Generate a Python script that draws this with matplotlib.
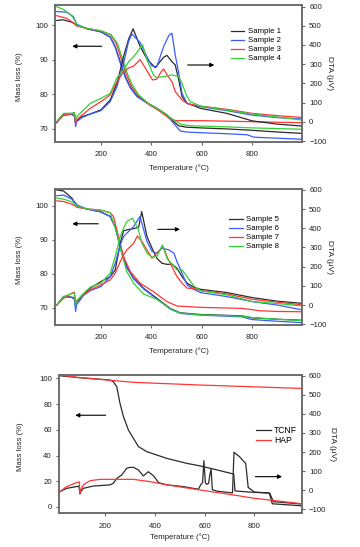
import matplotlib
matplotlib.use('Agg')
import matplotlib.pyplot as plt

plt.rcParams['font.family'] = ['Liberation Sans', 'DejaVu Sans']
FS = 5.6

# ---------------- data: panel 1 (mass loss) ----------------
t1_m1 = [25, 50, 85, 100, 105, 145, 200, 237, 257, 277, 297, 317, 343, 383, 422, 462, 489, 509, 540, 595, 700, 800, 900, 998]
m1_s1 = [101.4, 101.6, 100.9, 100.3, 100.0, 99.0, 98.1, 96.6, 93.8, 89.4, 85.1, 82.0, 79.5, 77.5, 75.9, 74.0, 72.0, 70.8, 70.4, 70.2, 69.9, 69.5, 69.0, 68.6]
t1_m2 = [25, 65, 91, 100, 105, 145, 200, 237, 257, 277, 297, 317, 343, 383, 422, 462, 489, 515, 540, 595, 700, 780, 807, 900, 998]
m1_s2 = [104.0, 103.8, 102.5, 101.0, 100.3, 99.0, 98.1, 96.6, 93.6, 89.0, 84.8, 81.8, 79.3, 77.4, 75.8, 73.8, 71.5, 69.3, 69.0, 68.8, 68.5, 68.2, 67.5, 67.2, 66.9]
t1_m3 = [25, 65, 95, 103, 145, 200, 240, 262, 282, 302, 322, 350, 390, 430, 462, 480, 500, 600, 800, 998]
m1_s3 = [102.8, 102.0, 100.5, 99.8, 99.1, 98.4, 97.2, 94.5, 90.0, 85.5, 82.2, 79.5, 77.0, 75.2, 73.5, 72.6, 72.3, 72.3, 72.0, 71.7]
t1_m4 = [25, 52, 85, 100, 105, 145, 200, 240, 265, 285, 305, 325, 350, 390, 430, 470, 500, 520, 560, 700, 800, 998]
m1_s4 = [105.4, 104.6, 102.7, 101.0, 100.0, 99.1, 98.4, 97.3, 94.8, 90.5, 86.0, 82.6, 79.8, 77.2, 75.5, 73.5, 72.0, 71.2, 70.8, 70.5, 70.2, 69.8]

# ---------------- data: panel 1 (DTA) ----------------
t1_d1 = [25, 40, 52, 70, 85, 95, 100, 103, 125, 158, 200, 237, 264, 290, 310, 328, 356, 383, 416, 449, 462, 482, 495, 509, 522, 542, 555, 595, 700, 800, 900, 998]
d1_s1 = [-5, 25, 35, 38, 38, 30, -8, 5, 27, 41, 62, 114, 200, 339, 430, 484, 392, 326, 282, 336, 346, 313, 296, 218, 131, 96, 91, 70, 44, 5, -12, -22]
t1_d2 = [25, 52, 85, 95, 100, 103, 125, 158, 200, 237, 264, 290, 310, 323, 356, 383, 402, 422, 449, 470, 482, 495, 509, 522, 542, 555, 595, 700, 800, 900, 998]
d1_s2 = [-3, 35, 40, 30, -25, 0, 22, 40, 58, 105, 183, 305, 418, 458, 412, 339, 291, 287, 392, 450, 461, 348, 253, 148, 96, 91, 79, 58, 35, 22, 15]
t1_d3 = [25, 52, 85, 95, 100, 103, 125, 158, 200, 237, 264, 290, 310, 330, 356, 383, 405, 422, 440, 449, 465, 482, 495, 522, 542, 555, 595, 700, 800, 900, 998]
d1_s3 = [0, 35, 42, 48, -10, 10, 35, 70, 105, 140, 210, 261, 280, 290, 324, 265, 218, 222, 262, 275, 240, 209, 157, 114, 96, 91, 82, 65, 44, 32, 23]
t1_d4 = [25, 52, 85, 95, 100, 103, 125, 158, 200, 237, 264, 290, 310, 336, 365, 383, 409, 420, 449, 482, 509, 522, 542, 555, 595, 700, 800, 900, 998]
d1_s4 = [2, 44, 45, 48, 9, 25, 53, 96, 122, 148, 230, 270, 313, 348, 402, 322, 244, 230, 235, 244, 235, 200, 131, 105, 82, 61, 41, 25, 9]

# ---------------- data: panel 2 (mass loss) ----------------
t2_m = [25, 52, 85, 100, 105, 144, 197, 237, 257, 277, 303, 330, 370, 422, 475, 515, 595, 760, 800, 900, 998]
m2_s5 = [104.7, 104.4, 102.3, 100.6, 100.0, 99.1, 98.3, 96.9, 93.9, 88.0, 82.1, 78.7, 75.7, 72.8, 69.8, 68.5, 68.0, 67.6, 67.0, 66.6, 66.3]
m2_s6 = [103.0, 103.2, 102.0, 100.8, 100.3, 99.1, 98.3, 96.9, 93.6, 87.6, 81.8, 78.5, 75.5, 72.6, 69.6, 68.3, 67.8, 67.3, 66.5, 66.0, 65.6]
t2_m7 = [25, 52, 85, 100, 105, 144, 197, 237, 250, 270, 290, 317, 356, 409, 462, 502, 595, 760, 793, 830, 900, 998]
m2_s7 = [101.5, 101.3, 100.5, 99.9, 99.6, 99.1, 98.8, 98.0, 96.9, 91.0, 85.0, 80.6, 77.2, 74.7, 71.8, 70.5, 70.1, 69.8, 69.5, 69.1, 68.9, 68.8]
t2_m8 = [25, 52, 85, 100, 105, 144, 197, 237, 264, 284, 303, 330, 370, 422, 475, 515, 595, 760, 800, 900, 998]
m2_s8 = [102.3, 102.0, 101.2, 100.3, 100.0, 99.1, 98.8, 98.0, 91.9, 85.5, 80.6, 77.2, 74.0, 72.5, 69.7, 68.4, 67.9, 67.5, 67.1, 66.6, 66.2]

# ---------------- data: panel 2 (DTA) ----------------
t2_d5 = [25, 52, 85, 95, 100, 103, 131, 158, 200, 237, 257, 277, 290, 303, 330, 350, 362, 383, 403, 422, 442, 462, 482, 502, 522, 542, 568, 595, 700, 800, 900, 998]
d2_s5 = [0, 44, 41, 35, -8, 15, 53, 88, 122, 148, 183, 322, 386, 392, 398, 405, 487, 357, 296, 244, 218, 212, 213, 192, 148, 114, 93, 82, 65, 39, 20, 9]
t2_d6 = [25, 52, 85, 95, 100, 103, 131, 158, 200, 237, 257, 277, 290, 303, 330, 355, 383, 403, 422, 442, 470, 490, 502, 522, 542, 568, 595, 700, 800, 900, 998]
d2_s6 = [0, 45, 39, 30, -34, 0, 50, 75, 96, 148, 218, 313, 357, 374, 409, 461, 331, 279, 270, 296, 287, 270, 226, 166, 105, 82, 65, 44, 18, 0, -25]
t2_d7 = [25, 52, 85, 95, 100, 103, 131, 158, 200, 237, 257, 277, 290, 303, 330, 345, 363, 383, 403, 422, 447, 462, 482, 502, 522, 542, 568, 595, 700, 800, 900, 998]
d2_s7 = [0, 35, 62, 67, 9, 20, 55, 79, 105, 131, 166, 227, 261, 287, 322, 360, 331, 287, 244, 270, 305, 253, 200, 148, 114, 88, 86, 75, 58, 30, 15, 1]
t2_d8 = [25, 52, 85, 95, 100, 103, 131, 158, 200, 237, 257, 277, 290, 303, 325, 347, 363, 383, 403, 422, 444, 462, 482, 502, 522, 542, 568, 595, 700, 800, 900, 998]
d2_s8 = [0, 44, 60, 62, 0, 20, 61, 93, 114, 166, 253, 357, 400, 435, 452, 400, 322, 270, 249, 253, 313, 244, 214, 183, 183, 148, 100, 75, 53, 18, 8, -5]

# ---------------- data: panel 3 ----------------
t3_hap_m = [19, 86, 314, 583, 985]
m3_hap = [102.6, 100.8, 96.9, 94.8, 92.2]
t3_tcnf_m = [19, 99, 220, 233, 247, 260, 274, 294, 314, 334, 368, 448, 529, 583, 650, 717, 722, 780, 860, 872, 985]
m3_tcnf = [102.0, 100.5, 98.7, 97.4, 93.5, 80.6, 70.2, 59.8, 53.4, 46.9, 43.0, 37.8, 33.9, 31.9, 28.8, 25.6, 12.5, 11.6, 10.8, 2.5, 1.0]
t3_tcnf_d = [19, 46, 86, 95, 99, 102, 113, 153, 220, 233, 247, 267, 287, 300, 314, 334, 354, 374, 395, 415, 448, 515, 575, 585, 592, 597, 603, 608, 616, 621, 626, 631, 650, 712, 718, 740, 758, 765, 775, 800, 855, 862, 876, 985]
d3_tcnf = [-7, 10, 19, 22, -20, -8, 10, 22, 28, 36, 62, 80, 115, 120, 120, 106, 75, 97, 75, 40, 28, 19, 5, 30, 40, 155, 40, 31, 36, 80, 111, 3, -5, -14, 199, 176, 150, 141, 15, -10, -14, -16, -60, -72]
t3_hap_d = [19, 46, 86, 97, 99, 102, 113, 140, 180, 314, 381, 448, 583, 717, 797, 985]
d3_hap = [-7, 19, 40, 43, -16, 0, 28, 50, 57, 57, 45, 28, 1, -25, -42, -70]

labels1 = ['Sample 1', 'Sample 2', 'Sample 3', 'Sample 4']
labels2 = ['Sample 5', 'Sample 6', 'Sample 7', 'Sample 8']
labels3 = ['TCNF', 'HAP']
xticks = [200, 400, 600, 800]

C_K, C_B, C_R, C_G = '#2b2b2b', '#3a5cff', '#ff3535', '#35cf35'
SPINE = '#6a6a6a'
LW = 0.9

W, H = 360, 547
fig = plt.figure(figsize=(3.6, 5.47), dpi=100)


def rect(l, t, r, b):
    return [l / W, 1 - b / H, (r - l) / W, (b - t) / H]


def style(ax, ax2, xlim, ylim, y2lim, yt, y2t, ylab_x, y2lab_x, xlab_y):
    ax.set_xlim(*xlim)
    ax.set_ylim(*ylim)
    ax2.set_ylim(*y2lim)
    ax.set_xticks(xticks)
    ax.set_yticks(yt)
    ax2.set_yticks(y2t)
    for a in (ax, ax2):
        for s in a.spines.values():
            s.set_color(SPINE)
            s.set_linewidth(1.1)
        a.tick_params(direction='out', length=2.2, width=0.8, colors=SPINE,
                      labelcolor='#222222', labelsize=FS, pad=3)
    ax.tick_params(axis='x', pad=4.5)
    ax.set_xlabel('Temperature (°C)', fontsize=FS, color='#222222')
    ax.xaxis.set_label_coords(0.5, xlab_y)
    ax.xaxis.label.set_va('center')
    ax.set_ylabel('Mass loss (%)', fontsize=FS, color='#222222')
    ax.yaxis.set_label_coords(ylab_x, 0.48)
    ax.yaxis.label.set_va('center')
    ax2.set_ylabel('DTA (μV)', fontsize=FS + 0.4, color='#222222', rotation=270)
    ax2.yaxis.set_label_coords(y2lab_x, 0.5)
    ax2.yaxis.label.set_va('center')


def arrow(ax, x0, x1, y):
    ax.annotate('', xy=(x1, y), xytext=(x0, y), xycoords='axes fraction',
                arrowprops=dict(arrowstyle='-|>', color='black', lw=0.8,
                                mutation_scale=6, shrinkA=0, shrinkB=0))


# ---------------- panel 1 ----------------
ax = fig.add_axes(rect(55, 5, 302, 142))
ax2 = ax.twinx()
cols = [C_K, C_B, C_R, C_G]
for t, m, c in zip([t1_m1, t1_m2, t1_m3, t1_m4], [m1_s1, m1_s2, m1_s3, m1_s4], cols):
    ax.plot(t, m, color=c, lw=LW)
hs = []
for t, d, c, lb in zip([t1_d1, t1_d2, t1_d3, t1_d4], [d1_s1, d1_s2, d1_s3, d1_s4], cols, labels1):
    h, = ax2.plot(t, d, color=c, lw=LW, label=lb)
    hs.append(h)
style(ax, ax2, (18, 998), (66.1, 105.9), (-105, 608), [70, 80, 90, 100],
      list(range(-100, 601, 100)), -0.142, 1.113, -0.192)
ax2.legend(handles=hs, loc='center left', bbox_to_anchor=(0.711, 0.707), frameon=False,
           borderpad=0, borderaxespad=0, fontsize=FS, handlelength=1.7,
           handletextpad=0.5, labelspacing=0.2)
arrow(ax2, 0.189, 0.070, 0.699)
arrow(ax2, 0.537, 0.645, 0.562)

# ---------------- panel 2 ----------------
ax = fig.add_axes(rect(55, 189.3, 302, 325))
ax2 = ax.twinx()
for t, m, c in zip([t2_m, t2_m, t2_m7, t2_m8], [m2_s5, m2_s6, m2_s7, m2_s8], cols):
    ax.plot(t, m, color=c, lw=LW)
hs = []
for t, d, c, lb in zip([t2_d5, t2_d6, t2_d7, t2_d8], [d2_s5, d2_s6, d2_s7, d2_s8], cols, labels2):
    h, = ax2.plot(t, d, color=c, lw=LW, label=lb)
    hs.append(h)
style(ax, ax2, (18, 998), (64.9, 104.9), (-104, 603), [70, 80, 90, 100],
      list(range(-100, 601, 100)), -0.142, 1.113, -0.194)
ax2.legend(handles=hs, loc='center left', bbox_to_anchor=(0.706, 0.676), frameon=False,
           borderpad=0, borderaxespad=0, fontsize=FS, handlelength=1.7,
           handletextpad=0.5, labelspacing=0.2)
arrow(ax2, 0.175, 0.070, 0.746)
arrow(ax2, 0.416, 0.506, 0.705)

# ---------------- panel 3 ----------------
ax = fig.add_axes(rect(59, 375, 301.7, 513.3))
ax2 = ax.twinx()
ax.plot(t3_tcnf_m, m3_tcnf, color=C_K, lw=LW)
ax.plot(t3_hap_m, m3_hap, color=C_R, lw=LW)
h1, = ax2.plot(t3_tcnf_d, d3_tcnf, color=C_K, lw=LW, label=labels3[0])
h2, = ax2.plot(t3_hap_d, d3_hap, color=C_R, lw=LW, label=labels3[1])
style(ax, ax2, (15, 990), (-4.9, 102.6), (-121, 604), [0, 20, 40, 60, 80, 100],
      list(range(-100, 601, 100)), -0.158, 1.128, -0.176)
ax2.legend(handles=[h1, h2], loc='center left', bbox_to_anchor=(0.812, 0.5625), frameon=False,
           borderpad=0, borderaxespad=0, fontsize=FS + 0.6, handlelength=1.7,
           handletextpad=0.4, labelspacing=0.15)
arrow(ax2, 0.192, 0.067, 0.709)
arrow(ax2, 0.809, 0.919, 0.265)

fig.savefig('out.png', dpi=100, facecolor='white')
